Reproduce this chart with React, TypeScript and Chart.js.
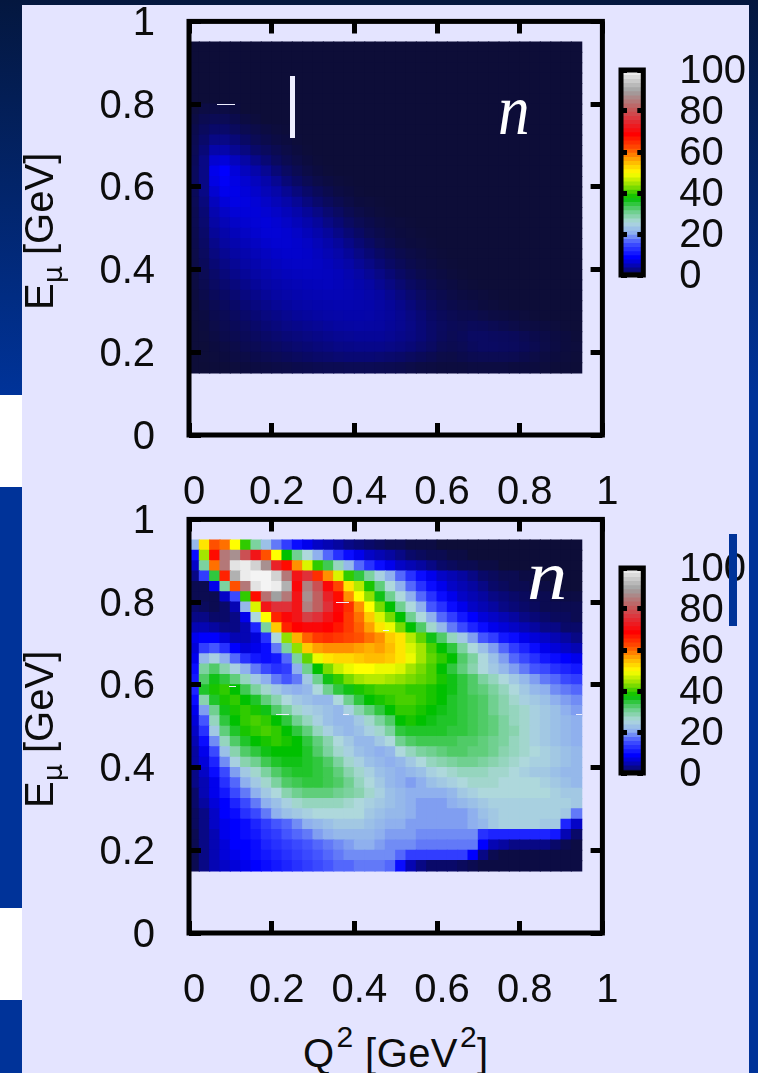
import React, { useEffect, useRef } from "react";
import { Chart, registerables } from "chart.js";

Chart.register(...registerables);

const q2Bins = [0.0125,0.0375,0.0625,0.0875,0.1125,0.1375,0.1625,0.1875,0.2125,0.2375,0.2625,0.2875,0.3125,0.3375,0.3625,0.3875,0.4125,0.4375,0.4625,0.4875,0.5125,0.5375,0.5625,0.5875,0.6125,0.6375,0.6625,0.6875,0.7125,0.7375,0.7625,0.7875,0.8125,0.8375,0.8625,0.8875,0.9125,0.9375];
const energyBins = [0.9375,0.9125,0.8875,0.8625,0.8375,0.8125,0.7875,0.7625,0.7375,0.7125,0.6875,0.6625,0.6375,0.6125,0.5875,0.5625,0.5375,0.5125,0.4875,0.4625,0.4375,0.4125,0.3875,0.3625,0.3375,0.3125,0.2875,0.2625,0.2375,0.2125,0.1875,0.1625];

// Rows run from the highest energy down; a row that stops early is empty (0) further right.
const upperCounts = [
  [0],[0],[0],[0],[0],[0],
  [0.2,0.5,0.5,0.5,0.3],
  [0.5,1,1.2,1.2,0.8,0.4,0.2],
  [0.8,1.5,2,2,1.5,1,0.7,0.4,0.2,0.1],
  [1,2,3,3,2.5,1.8,1.2,0.8,0.5,0.3,0.1],
  [1.2,2.5,4.5,4.5,3.5,2.8,2,1.5,1,0.6,0.3,0.1],
  [1.3,3,6.5,7,5.5,4.2,3.2,2.4,1.6,1,0.6,0.3,0.1],
  [1.5,3,8,9,7,5.5,4.5,3.5,2.5,1.7,1.1,0.6,0.3,0.1],
  [1.5,3,7.5,8.5,7.5,6.5,5.5,4.5,3.5,2.5,1.8,1.2,0.7,0.4,0.2,0.1],
  [1.3,3,6.5,8,7.8,7,6.2,5.2,4.4,3.5,2.7,2,1.4,0.9,0.5,0.3,0.1],
  [1.2,2.7,5.5,7,7.5,7.3,6.8,6,5.2,4.4,3.6,2.8,2.1,1.5,1,0.6,0.3,0.2,0.1],
  [1,2.4,4.8,6,6.8,7,7,6.6,6,5.3,4.5,3.7,3,2.3,1.7,1.1,0.7,0.4,0.2,0.1],
  [1,2.2,4.2,5.2,6,6.5,6.8,7,6.6,6,5.3,4.6,3.8,3,2.4,1.7,1.2,0.8,0.5,0.3,0.2,0.1],
  [0.9,2,3.7,4.5,5.3,5.9,6.4,6.8,6.8,6.5,6,5.3,4.6,3.8,3.1,2.4,1.8,1.2,0.8,0.5,0.3,0.2,0.1],
  [0.8,1.8,3.2,4,4.7,5.3,5.8,6.3,6.6,6.6,6.3,5.9,5.2,4.5,3.8,3.1,2.4,1.8,1.2,0.8,0.5,0.3,0.2,0.1],
  [0.7,1.6,2.8,3.5,4.1,4.7,5.2,5.7,6.1,6.3,6.3,6.1,5.6,5,4.4,3.7,3,2.4,1.8,1.3,0.9,0.6,0.4,0.2,0.1],
  [0.6,1.4,2.4,3,3.6,4.2,4.7,5.2,5.6,5.9,6,6,5.8,5.4,4.9,4.3,3.6,3,2.4,1.8,1.3,0.9,0.6,0.4,0.2,0.1],
  [0.5,1.2,2,2.6,3.2,3.7,4.2,4.7,5.1,5.4,5.6,5.7,5.7,5.6,5.3,4.8,4.2,3.6,3,2.4,1.8,1.3,0.9,0.6,0.4,0.2,0.1],
  [0.4,1,1.7,2.2,2.7,3.2,3.7,4.2,4.6,4.9,5.1,5.3,5.4,5.5,5.3,5,4.6,4.1,3.5,2.9,2.3,1.7,1.3,0.9,0.6,0.4,0.2,0.1],
  [0.3,0.8,1.4,1.8,2.3,2.8,3.2,3.7,4.1,4.4,4.7,4.9,5,5.1,5.1,5,4.8,4.4,4,3.4,2.8,2.2,1.7,1.2,0.9,0.6,0.4,0.3,0.2,0.1],
  [0.2,0.6,1.1,1.5,1.9,2.4,2.8,3.2,3.6,3.9,4.2,4.4,4.6,4.7,4.8,4.8,4.7,4.5,4.1,3.7,3.2,2.6,2,1.5,1.1,0.8,0.6,0.5,0.3,0.2,0.1],
  [0.2,0.4,0.9,1.2,1.6,2,2.4,2.8,3.1,3.4,3.7,3.9,4.1,4.3,4.4,4.5,4.5,4.4,4.1,3.8,3.4,2.9,2.4,1.8,1.4,1.1,0.9,0.9,0.7,0.5,0.4,0.3,0.2,0.1],
  [0.1,0.3,0.7,1,1.3,1.6,2,2.4,2.7,3,3.2,3.4,3.6,3.8,4,4.1,4.2,4.1,4,3.7,3.4,3,2.5,2,1.6,1.3,1.2,1.4,1.3,1.1,0.9,0.7,0.5,0.4,0.3,0.2,0.1],
  [0.1,0.2,0.5,0.8,1,1.3,1.6,1.9,2.2,2.5,2.7,2.9,3.1,3.3,3.5,3.6,3.7,3.7,3.7,3.5,3.2,2.9,2.5,2,1.5,1.2,1.4,1.7,1.7,1.6,1.5,1.4,1.1,0.8,0.6,0.4,0.3,0.1],
  [0.1,0.1,0.3,0.5,0.7,1,1.2,1.5,1.7,2,2.2,2.4,2.6,2.8,3,3.1,3.2,3.2,3.2,3,2.8,2.5,2.1,1.7,1.2,1,1.2,1.5,1.7,1.7,1.6,1.5,1.3,1,0.7,0.5,0.3,0.2],
  [0,0.1,0.2,0.3,0.5,0.6,0.8,1,1.2,1.4,1.6,1.8,2,2.1,2.3,2.4,2.4,2.4,2.3,2.1,1.9,1.6,1.3,1,0.7,0.6,0.8,1,1.1,1.1,1.1,1,0.8,0.6,0.4,0.3,0.2,0.1],
  [0,0,0.1,0.1,0.2,0.3,0.4,0.5,0.6,0.7,0.8,0.9,1,1.1,1.1,1.2,1.2,1.2,1.1,1,0.9,0.7,0.5,0.4,0.3,0.3,0.3,0.4,0.4,0.4,0.4,0.3,0.3,0.3,0.2,0.1,0.1,0],
];

const lowerCounts = [
  [22,52,62,60,50,40,30,23,18,14,10,8,6,5,4,3,2.5,2,1.5,1,1,0.5,0.5,0.5],
  [10,45,68,85,88,80,72,62,50,38,31,26,21,17,13,10,8,6,5,4,3,2,1.5,1,1,0.5,0.5],
  [6,30,60,85,98,99,96,88,74,68,58,48,40,34,28,22,17,13,10,8,6,5,4,3,2,1.5,1,1,0.5,0.5],
  [3,14,35,66,92,99,100,100,96,85,72,76,65,58,48,40,35,30,25,21,17,13,10,8,6,5,4,3,2,1.5,1,1,0.5,0.5],
  [1,1,8,30,62,85,98,100,99,92,70,86,80,70,63,52,46,39,32,26,21,17,13,10,8,6,5,4,3,2,1.5,1,1,0.5,0.5],
  [1,1,1,6,15,40,68,84,90,85,72,88,82,74,68,58,50,44,37,31,26,21,17,13,10,8,6,5,4,3,2.5,2,1.5,1,1,0.5,0.5,0.5],
  [2,1.5,1,2,5,22,48,72,76,76,72,86,82,76,70,65,58,50,43,38,31,26,21,16,13,10,8,6,5,4,3,2.5,2,1.5,1,1,1,1],
  [3,3,2,2,3,8,26,50,66,70,72,78,76,72,69,64,60,54,48,43,38,31,26,21,17,14,11,9,7,6,5,4,3,2.5,2,1.5,1.5,1],
  [5,5,4,3,3,5,12,30,54,66,69,70,70,69,67,64,61,57,52,49,43,38,33,27,22,18,15,12,10,8,7,6,5,4,3,3,2,2],
  [8,9,9,7,5,5,7,13,26,44,56,61,64,65,64,63,62,60,58,54,52,46,42,37,33,28,24,20,16,14,11,10,8,7,6,5,4,3],
  [7,14,16,13,9,7,8,10,18,30,44,54,57,58,58,58,57,56,57,55,52,48,45,41,38,35,30,26,23,20,17,14,12,10,8,7,6,5],
  [8,22,25,21,17,13,11,10,11,17,30,42,49,52,53,53,54,55,55,54,52,49,45,42,40,38,33,30,26,23,20,17,15,13,11,10,9,8],
  [10,30,33,29,25,21,18,15,13,14,21,31,38,43,47,49,50,50,49,49,48,45,43,41,38,35,32,29,26,24,22,20,18,16,15,13,12,11],
  [11,33,37,35,32,28,24,21,18,16,18,24,31,37,40,43,45,46,46,45,44,43,42,41,39,37,35,33,30,28,26,24,22,20,18,17,15,14],
  [12,36,39,40,38,34,30,27,24,22,21,22,26,31,35,37,39,40,41,41,41,40,40,39,38,37,35,33,32,30,28,26,24,22,21,19,18,17],
  [10,29,36,39,40,38,36,32,29,26,24,23,22,22,26,31,35,38,39,40,41,41,40,39,38,36,35,34,33,31,29,27,25,24,23,21,20,19],
  [8,20,31,37,39,40,39,37,33,30,27,25,24,23,22,25,29,32,35,38,40,40,39,38,37,36,35,34,33,31,29,28,27,25,24,23,21,20],
  [7,16,28,35,38,40,41,40,38,35,31,28,25,23,22,22,24,27,30,33,38,39,38,37,36,36,35,34,33,32,30,28,27,25,24,23,22,21],
  [6,13,24,32,36,39,40,41,40,38,35,32,28,25,23,22,23,25,27,30,35,36,36,36,36,35,35,34,33,32,30,29,27,25,24,23,22,21],
  [5,10,19,28,33,36,38,39,40,39,38,35,32,29,26,24,22,22,24,26,31,33,34,34,34,34,33,33,32,31,30,28,27,25,24,23,22,21],
  [4,8,15,23,29,33,35,37,38,38,38,36,33,30,27,25,23,22,21,22,26,28,30,31,32,33,33,32,32,31,29,28,27,26,25,24,23,22],
  [4,7,12,19,25,29,31,34,36,37,37,36,35,33,30,27,25,23,22,21,22,24,26,28,29,30,31,31,30,29,28,27,26,25,25,24,23,22],
  [3,6,10,15,20,24,27,30,33,35,36,36,35,34,32,29,27,25,23,22,21,22,23,25,26,27,28,28,28,27,27,26,25,24,24,23,22,22],
  [3,5,8,13,17,21,24,27,30,33,34,35,35,34,33,31,28,26,24,22,21,20,21,23,24,25,26,27,27,27,26,26,26,26,25,24,23,22],
  [2,5,8,11,15,18,21,24,26,29,31,32,32,32,31,30,29,27,25,23,22,21,21,21,21,22,24,25,26,26,26,26,26,26,26,25,24,24],
  [2,4,7,9,12,15,18,21,23,25,27,28,28,28,28,27,26,25,24,23,22,21,20,20,20,21,22,23,24,25,25,25,25,25,25,25,25,24],
  [1.5,3,6,9,10,13,15,18,21,23,24,25,26,26,26,26,26,24,23,22,22,21,20,20,20,20,20,21,23,24,25,25,25,25,25,25,24,18],
  [1.5,3,6,8,9,10,12,14,16,17,19,21,22,23,24,24,24,23,22,21,21,20,20,20,20,20,20,21,22,24,25,25,25,25,24,24,12,6],
  [1,3,5,8,9,10,11,13,14,16,17,18,20,21,22,22,22,22,21,20,20,20,19,19,19,19,19,19,13,12,12,12,12,12,12,11,5,2],
  [1,3,5,7,9,9,10,12,13,14,15,16,17,18,19,20,21,21,20,19,19,19,18,18,18,18,18,18,9,5,4,3,3,3,3,2,1,0.5],
  [1,3,5,7,8,9,10,11,12,13,14,15,16,17,18,19,19,19,19,19,17,14,14,14,14,14,14,9,3,1,0.5,0.5,0.5,0.5,0.5,0.5,0.5,0.5],
  [1,3,5,6,7,8,9,10,11,12,13,14,15,16,17,17,18,18,18,17,10,5,3,2,2,2,1.5,1,0.5,0.5,0.5,0.5,0.5,0.5,0.5,0.5,0.5,0.5],
];

const colorbarLevels = [1,3,5,7,9,11,13,15,17,19,21,23,25,27,29,31,33,35,37,39,41,43,45,47,49,51,53,55,57,59,61,63,65,67,69,71,73,75,77,79,81,83,85,87,89,91,93,95,97,99];

const paletteStops: [number, number, number, number][] = [
  [0, 13, 13, 56],
  [2, 9, 9, 105],
  [4, 6, 6, 160],
  [9, 0, 0, 255],
  [16, 68, 85, 255],
  [21, 143, 176, 238],
  [26, 174, 216, 220],
  [31, 112, 208, 144],
  [38, 0, 192, 0],
  [44, 144, 224, 0],
  [50, 255, 255, 0],
  [56, 255, 176, 0],
  [62, 255, 80, 0],
  [69, 255, 0, 0],
  [76, 224, 48, 56],
  [82, 192, 96, 96],
  [90, 160, 160, 160],
  [100, 244, 244, 244],
];

function colorFor(v: number): string {
  for (let i = 1; i < paletteStops.length; i++) {
    const a = paletteStops[i - 1];
    const b = paletteStops[i];
    if (v <= b[0]) {
      const t = (v - a[0]) / (b[0] - a[0]);
      const c = [1, 2, 3].map((k) => Math.round(a[k] + (b[k] - a[k]) * t));
      return `rgb(${c[0]},${c[1]},${c[2]})`;
    }
  }
  return "rgb(244,244,244)";
}

const FONT = "'Liberation Sans', Arial, sans-serif";
const INK = "#0c0c0c";
const CANVAS_W = 758;
const CANVAS_H = 520;
const BIN_WIDTH = 0.025;

const framePlugin = {
  id: "frame",
  afterDraw(chart: any) {
    const { ctx, chartArea: a } = chart;
    ctx.save();
    ctx.strokeStyle = "#000";
    ctx.lineWidth = 5;
    ctx.strokeRect(a.left, a.top, a.right - a.left, a.bottom - a.top);
    ctx.restore();
  },
};

const zeroPad = (a: any) => {
  a.paddingTop = 0;
  a.paddingBottom = 0;
  a.paddingLeft = 0;
  a.paddingRight = 0;
};

function heatChart(canvas: HTMLCanvasElement, grid: number[][]) {
  const points: { x: number; y: number }[] = [];
  const colors: string[] = [];
  energyBins.forEach((y, r) => {
    q2Bins.forEach((x, c) => {
      points.push({ x, y });
      colors.push(colorFor(grid[r][c] ?? 0));
    });
  });
  const tickFont = { family: FONT, size: 40 };
  const fmt = (v: any) => String(Math.round(Number(v) * 10) / 10);
  return new Chart(canvas, {
    type: "scatter",
    data: {
      datasets: [
        {
          data: points,
          pointStyle: "rect",
          pointBackgroundColor: colors,
          pointBorderWidth: 0,
          pointRadius: (ctx: any) => {
            const s = ctx.chart.scales.x;
            return (Math.abs(s.getPixelForValue(BIN_WIDTH) - s.getPixelForValue(0)) + 1.1) / Math.SQRT2;
          },
        } as any,
      ],
    },
    options: {
      animation: false,
      responsive: false,
      events: [],
      layout: { padding: { left: 0, right: 155.6, top: 21.4, bottom: 0 } },
      plugins: { legend: { display: false }, tooltip: { enabled: false } },
      scales: {
        x: {
          type: "linear",
          min: 0,
          max: 1,
          afterFit: (a: any) => { a.height = CANVAS_H - 435; zeroPad(a); },
          border: { display: false, dash: [12, 389.6, 12] },
          grid: { color: "#000", lineWidth: 5, z: 1, drawTicks: false },
          ticks: { stepSize: 0.2, font: tickFont, color: INK, padding: 34, labelOffset: 5, maxRotation: 0, autoSkip: false, callback: fmt },
        },
        y: {
          type: "linear",
          min: 0,
          max: 1,
          afterFit: (a: any) => { a.width = 189; zeroPad(a); },
          border: { display: false, dash: [12, 389.6, 12] },
          grid: { color: "#000", lineWidth: 5, z: 1, drawTicks: false },
          ticks: { stepSize: 0.2, font: tickFont, color: INK, padding: 34, labelOffset: 2.5, autoSkip: false, callback: fmt },
        },
      },
    } as any,
    plugins: [framePlugin as any],
  });
}

function colorbarChart(canvas: HTMLCanvasElement) {
  return new Chart(canvas, {
    type: "bar",
    data: {
      labels: colorbarLevels.map(String),
      datasets: [
        {
          data: colorbarLevels.map((v) => ({ x: 1, y: v })),
          backgroundColor: colorbarLevels.map(colorFor),
          barThickness: 5,
        } as any,
      ],
    },
    options: {
      animation: false,
      responsive: false,
      events: [],
      indexAxis: "y",
      layout: { padding: { left: 21, right: 0, top: 20, bottom: 25 } },
      plugins: { legend: { display: false }, tooltip: { enabled: false } },
      scales: {
        x: { type: "linear", min: 0, max: 1, display: false },
        y: {
          type: "linear",
          position: "right",
          min: 0,
          max: 100,
          offset: false,
          afterFit: (a: any) => { a.width = 114.7; zeroPad(a); },
          border: { display: false, dash: [6, 10.3, 6] },
          grid: { color: "#000", lineWidth: 5, z: 1, drawTicks: false, offset: false },
          ticks: { stepSize: 20, font: { family: FONT, size: 40 }, color: INK, padding: 36, labelOffset: 2, autoSkip: false },
        },
      },
    } as any,
    plugins: [framePlugin as any],
  });
}

const abs = (left: number, top: number, width: number, height: number, background: string): React.CSSProperties => ({
  position: "absolute", left, top, width, height, background,
});

const txt: React.CSSProperties = {
  position: "absolute", fontFamily: FONT, fontSize: 40, lineHeight: "40px", color: INK, whiteSpace: "nowrap",
};

const sup: React.CSSProperties = { fontSize: 30, position: "relative", top: -20, lineHeight: 0, marginLeft: 2 };

function EnergyTitle({ top }: { top: number }) {
  return (
    <div style={{ ...txt, left: 19, top, transform: "rotate(-90deg)", transformOrigin: "0 0" }}>
      E<span style={{ fontSize: 27, position: "relative", top: 9, lineHeight: 0, fontFamily: "'DejaVu Sans'" }}>μ</span> [GeV]
    </div>
  );
}

const gapMarks = [
  [217, 103.5, 18, 1.5],
  [290, 76, 5, 62],
  [336, 601.5, 13, 1.5],
  [383, 629.5, 6, 1.5],
  [229, 685.5, 7, 1.5],
  [276, 713.5, 13, 1.5],
  [343, 713.5, 6, 1.5],
  [576, 713.5, 6, 1.5],
];

export default function App() {
  const a = useRef<HTMLCanvasElement>(null);
  const b = useRef<HTMLCanvasElement>(null);
  const c = useRef<HTMLCanvasElement>(null);
  const d = useRef<HTMLCanvasElement>(null);

  useEffect(() => {
    const charts = [
      heatChart(a.current!, upperCounts),
      heatChart(b.current!, lowerCounts),
      colorbarChart(c.current!),
      colorbarChart(d.current!),
    ];
    return () => charts.forEach((ch) => ch.destroy());
  }, []);

  const canvasStyle = (left: number, top: number): React.CSSProperties => ({ position: "absolute", left, top, display: "block" });

  return (
    <div style={{ position: "absolute", left: 0, top: 0, width: 758, height: 1073, overflow: "hidden", background: "#003399" }}>
      <div style={{ ...abs(0, 0, 758, 395, "transparent"), background: "linear-gradient(#04173f, #003399)" }} />
      <div style={abs(0, 395, 22, 92, "#ffffff")} />
      <div style={abs(0, 908, 22, 92, "#ffffff")} />
      <div style={abs(22, 5, 727, 1068, "#e4e4ff")} />
      <canvas ref={a} width={CANVAS_W} height={CANVAS_H} style={canvasStyle(0, 0)} />
      <canvas ref={b} width={CANVAS_W} height={CANVAS_H} style={canvasStyle(0, 498)} />
      <canvas ref={c} width={158} height={250} style={canvasStyle(600, 50)} />
      <canvas ref={d} width={158} height={250} style={canvasStyle(600, 548)} />
      {gapMarks.map((m, i) => <div key={i} style={abs(m[0], m[1], m[2], m[3], "#eeeeff")} />)}
      <div style={abs(729, 534, 8, 92, "#003399")} />
      <div style={{ ...txt, left: 498, top: 74, fontFamily: "'Liberation Serif'", fontStyle: "italic", fontSize: 72, lineHeight: "72px", color: "#fff", transform: "scaleX(0.88)", transformOrigin: "0 0" }}>n</div>
      <div style={{ ...txt, left: 527, top: 541, fontFamily: "'Liberation Serif'", fontStyle: "italic", fontSize: 70, lineHeight: "70px", color: "#fff", transform: "scaleX(1.15)", transformOrigin: "0 0" }}>n</div>
      <EnergyTitle top={310} />
      <EnergyTitle top={808} />
      <div style={{ ...txt, left: 303, top: 1033, letterSpacing: 0.4 }}>
        Q<span style={sup}>2</span> [GeV<span style={sup}>2</span>]
      </div>
    </div>
  );
}
